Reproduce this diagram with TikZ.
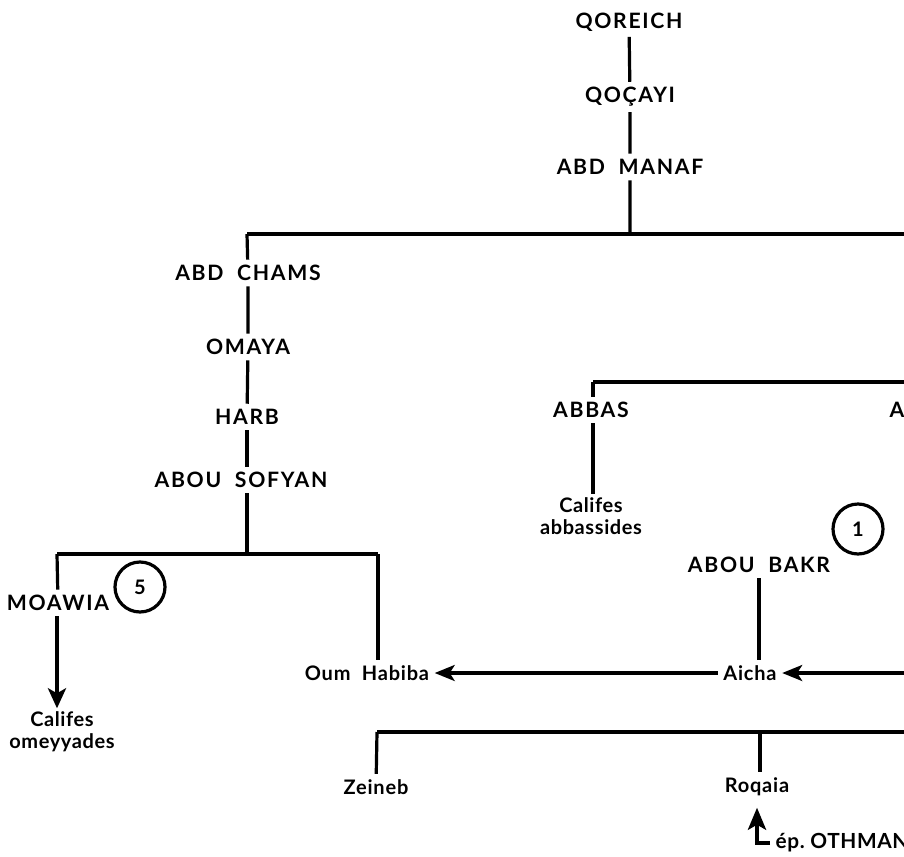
\documentclass[tikz,border=0pt]{standalone}
\usepackage{fontspec}
\setmainfont{Lato}
\usepackage{tikz}
\usetikzlibrary{arrows.meta}

\begin{document}
\begin{tikzpicture}[x=0.5pt, y=-0.5pt, line width=1.6pt,
  >={Stealth[length=10pt, width=8pt, inset=2.5pt]},
  ancestor/.style={font={\fontsize{10.6}{12}\selectfont\bfseries\addfontfeature{LetterSpace=8}}, inner sep=2pt},
  kin/.style={font={\bfseries\addfontfeature{LetterSpace=4}}, inner sep=2pt},
  dyn/.style={font={\fontsize{10}{11}\selectfont\bfseries\addfontfeature{LetterSpace=3}}, align=center, inner sep=1pt},
  num/.style={draw, circle, minimum size=25pt, inner sep=0pt, font=\bfseries}]
  \useasboundingbox (0,0) rectangle (904,856);
  \clip (0,0) rectangle (904,856);

  % Main line
  \node[ancestor] (qoreich) at (629,22) {QOREICH};
  \node[ancestor] (qocayi) at (630,97) {QOÇAYI};
  \node[ancestor] (manaf) at (630,167) {ABD~~MANAF};
  \coordinate (jmanaf) at (630,234);
  \coordinate (jchams) at (247,234);
  \coordinate (eastmanaf) at (910,234);
  \draw (qoreich) -- (qocayi) -- (manaf) -- (jmanaf);
  \draw (jchams) -- (eastmanaf);

  % Omeyyades
  \node[ancestor] (chams) at (248,273) {ABD~~CHAMS};
  \node[ancestor] (omaya) at (248,347) {OMAYA};
  \node[ancestor] (harb) at (247,417) {HARB};
  \node[ancestor] (sofyan) at (241,480) {ABOU~~SOFYAN};
  \coordinate (jsofyan) at (247,554);
  \draw (jchams) -- (chams) -- (omaya) -- (harb);
  \draw (harb) -- (harb |- sofyan.north);
  \draw (sofyan.south -| jsofyan) -- (jsofyan);

  \coordinate (jmoawia) at (57,554);
  \coordinate (jhabiba) at (378,554);
  \node[ancestor] (moawia) at (58,603) {MOAWIA};
  \node[num] (five) at (140,587) {5};
  \node[dyn] (omeyyades) at (62,732) {Califes\\omeyyades};
  \node[kin] (habiba) at (367,673) {Oum~~Habiba};
  \draw (jmoawia) -- (jhabiba);
  \draw (jmoawia) -- (moawia);
  \draw (jhabiba) -- (jhabiba |- habiba.north);
  \draw[->, line width=2pt, >={Stealth[length=10pt, width=9pt, inset=2.5pt]}]
    (moawia.south -| jmoawia) -- (omeyyades.north -| jmoawia);

  % Abbassides
  \coordinate (jabbas) at (593,382);
  \coordinate (eastabbas) at (910,382);
  \node[ancestor] (abbas) at (591,410) {ABBAS};
  \node[ancestor, anchor=west] (cut) at (884,410) {A};
  \node[dyn] (abbassides) at (591,516) {Califes\\abbassides};
  \draw (jabbas) -- (eastabbas);
  \draw (jabbas) -- (jabbas |- abbas.north);
  \draw (abbas.south -| jabbas) -- (abbassides.north -| jabbas);

  % Abou Bakr and Aicha
  \node[num] (one) at (858,529) {1};
  \node[ancestor] (bakr) at (759,565) {ABOU~~BAKR};
  \node[kin] (aicha) at (750,673) {Aicha};
  \coordinate (eastaicha) at (910,673);
  \draw (bakr.south) -- (bakr.south |- aicha.north);
  \draw[->] (aicha) -- (habiba);
  \draw[->] (eastaicha) -- (aicha);

  % Zeineb and Roqaia
  \coordinate (jzeineb) at (377,732);
  \coordinate (jroqaia) at (760,732);
  \coordinate (eastzeineb) at (910,732);
  \node[kin] (zeineb) at (376,787) {Zeineb};
  \node[kin] (roqaia) at (757,787) {Roqaia};
  \node[kin, anchor=west, font={\fontsize{10.4}{12}\selectfont\bfseries\addfontfeature{LetterSpace=3}}]
    (othman) at (770,843) {ép.~OTHMAN};
  \draw (jzeineb) -- (eastzeineb);
  \draw (jzeineb) -- (zeineb);
  \draw (jroqaia) -- (jroqaia |- roqaia.north);
  \draw[->, line width=2.2pt, shorten >=3pt, >={Stealth[length=11pt, width=9pt, inset=2.5pt]}]
    (othman.west) -| (roqaia.south);
\end{tikzpicture}
\end{document}
